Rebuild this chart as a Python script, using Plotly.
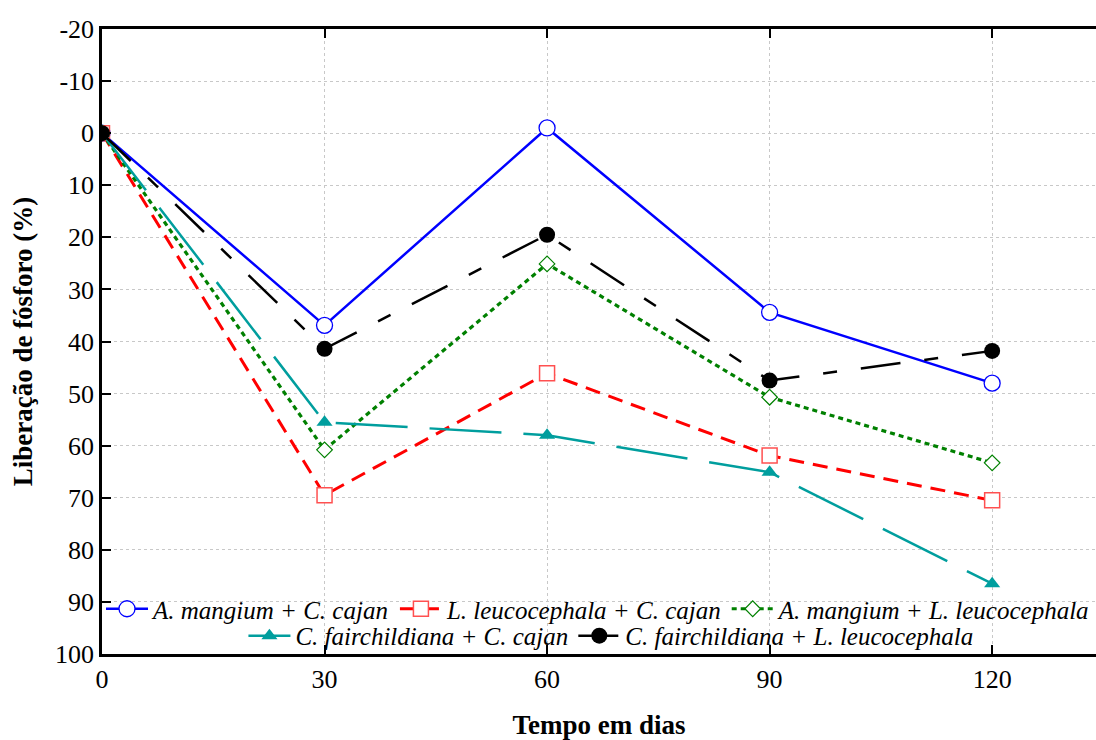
import plotly.graph_objects as go

dias = [0, 30, 60, 90, 120]

mangium_cajan = [0, 36.9, -1.0, 34.4, 48.0]
leucocephala_cajan = [0, 69.5, 46.1, 61.9, 70.5]
mangium_leucocephala = [0, 60.8, 25.1, 50.7, 63.3]
fairchildiana_cajan = [0, 55.5, 58.0, 65.1, 86.5]
fairchildiana_leucocephala = [0, 41.4, 19.5, 47.5, 41.8]

x_ticks = [0, 30, 60, 90, 120]
y_ticks = [-20, -10, 0, 10, 20, 30, 40, 50, 60, 70, 80, 90, 100]

FONT = "Liberation Serif, Times New Roman, serif"

fig = go.Figure()

fig.add_trace(go.Scatter(
    x=dias, y=mangium_cajan, mode="lines+markers",
    name="A. mangium + C. cajan", legend="legend",
    line=dict(color="#0000FF", width=2.5),
    marker=dict(symbol="circle", size=16, color="white",
                line=dict(color="#0000FF", width=1.3)),
))
fig.add_trace(go.Scatter(
    x=dias, y=leucocephala_cajan, mode="lines+markers",
    name="L. leucocephala + C. cajan", legend="legend",
    line=dict(color="#FF0000", width=3, dash="15px,9px"),
    marker=dict(symbol="square", size=15, color="white",
                line=dict(color="#FF5050", width=1.5)),
))
fig.add_trace(go.Scatter(
    x=dias, y=mangium_leucocephala, mode="lines+markers",
    name="A. mangium + L. leucocephala", legend="legend",
    line=dict(color="#008000", width=3.2, dash="5px,4px"),
    marker=dict(symbol="diamond", size=12, color="white",
                line=dict(color="#008000", width=1.2)),
))
fig.add_trace(go.Scatter(
    x=dias, y=fairchildiana_cajan, mode="lines+markers",
    name="C. fairchildiana + C. cajan", legend="legend2",
    line=dict(color="#009E9E", width=2.5, dash="72px,22px"),
    marker=dict(symbol="triangle-up", size=14, color="#009E9E",
                line=dict(width=0)),
))
fig.add_trace(go.Scatter(
    x=dias, y=fairchildiana_leucocephala, mode="lines+markers",
    name="C. fairchildiana + L. leucocephala", legend="legend2",
    line=dict(color="#000000", width=2.5, dash="40px,24px,14px,24px"),
    marker=dict(symbol="circle", size=16, color="#000000",
                line=dict(width=0)),
))

legend_font = dict(family=FONT, size=25, color="black", style="italic")

fig.update_layout(
    width=1096, height=740,
    margin=dict(l=102, r=0, t=29, b=86, pad=0),
    paper_bgcolor="white", plot_bgcolor="white",
    font=dict(family=FONT, size=26, color="black"),
    legend=dict(
        orientation="h", x=0.0, xanchor="left", y=0.072, yanchor="middle",
        bgcolor="rgba(0,0,0,0)", font=legend_font,
        itemwidth=42, tracegroupgap=0,
    ),
    legend2=dict(
        orientation="h", x=0.512, xanchor="center", y=0.029, yanchor="middle",
        bgcolor="rgba(0,0,0,0)", font=legend_font,
        itemwidth=42,
    ),
    xaxis=dict(
        range=[0, 134], tickvals=x_ticks, ticktext=[str(v) for v in x_ticks],
        ticks="inside", ticklen=9, tickwidth=2, tickcolor="black",
        showline=True, linecolor="black", linewidth=2.5, mirror="ticks",
        showgrid=True, gridcolor="#C8C8C8", gridwidth=1, griddash="3px,3px",
        zeroline=False, automargin=False,
        tickfont=dict(family=FONT, size=26, color="black"),
        title=dict(text="Tempo em dias",
                   font=dict(family=FONT, size=27, color="black", weight="bold"),
                   standoff=33),
    ),
    yaxis=dict(
        range=[100, -20], tickvals=y_ticks, ticktext=[str(v) for v in y_ticks],
        ticks="inside", ticklen=9, tickwidth=2, tickcolor="black",
        showline=True, linecolor="black", linewidth=2.5, mirror=False,
        showgrid=True, gridcolor="#C8C8C8", gridwidth=1, griddash="3px,3px",
        zeroline=False, automargin=False,
        tickfont=dict(family=FONT, size=26, color="black"),
        title=dict(text="Liberação de fósforo (%)",
                   font=dict(family=FONT, size=27, color="black", weight="bold"),
                   standoff=15),
    ),
    showlegend=True,
)

fig.write_html(
    "out.html",
    config={"displayModeBar": False},
    post_script="document.body.style.margin='0';document.body.style.overflow='hidden';",
)
